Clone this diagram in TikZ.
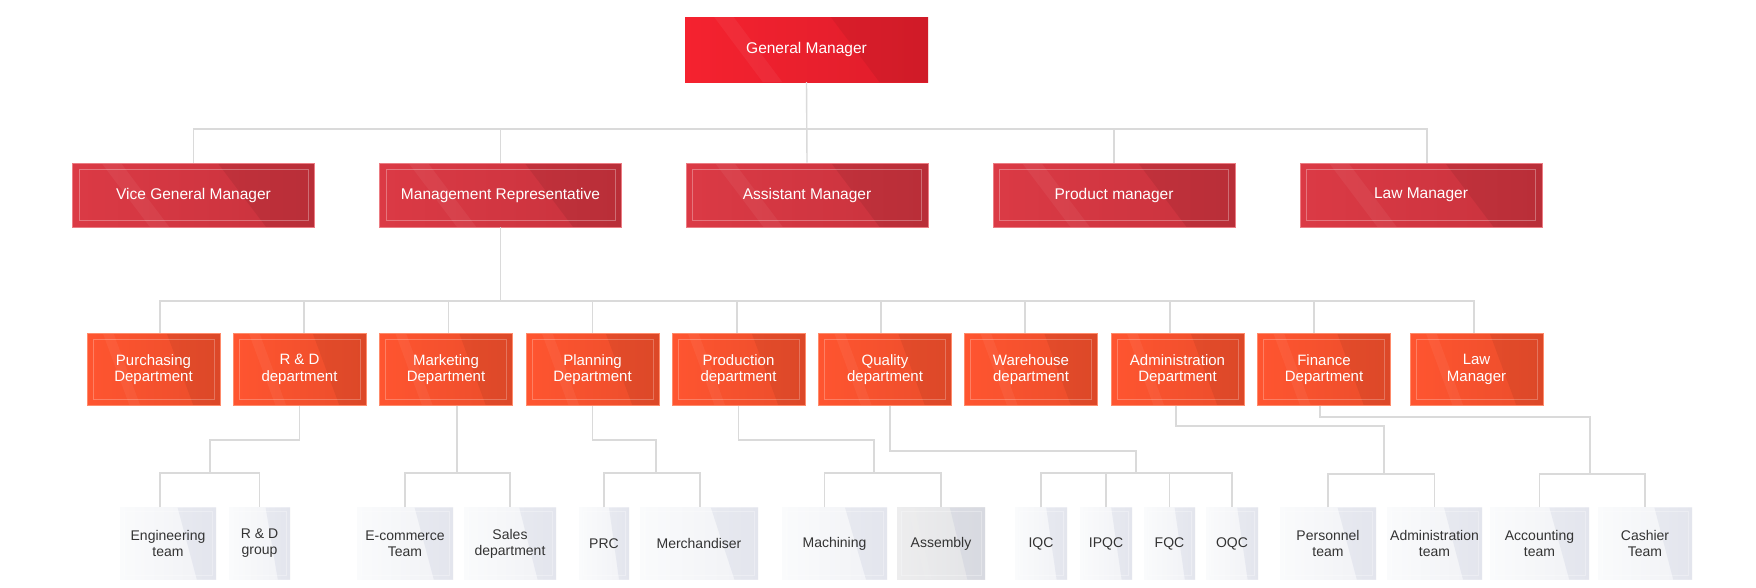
\documentclass[tikz,border=0pt]{standalone}
\usepackage{fontspec}
\setmainfont{Liberation Sans}
\usetikzlibrary{calc}
\definecolor{gmL}{HTML}{F5222F}
\definecolor{gmR}{HTML}{DE1D2B}
\definecolor{l2L}{HTML}{DB3A45}
\definecolor{l2R}{HTML}{C8323D}
\definecolor{l2E}{HTML}{EC7C83}
\definecolor{l3L}{HTML}{FF5530}
\definecolor{l3R}{HTML}{EA4D2B}
\definecolor{l3E}{HTML}{FF8B6B}
\definecolor{l4L}{HTML}{FAFBFC}
\definecolor{l4R}{HTML}{F0F1F5}
\definecolor{asL}{HTML}{EDEDEE}
\definecolor{asR}{HTML}{E2E3E6}
\definecolor{bandc}{HTML}{8A93B8}
\definecolor{txtf}{HTML}{333333}
\definecolor{lineg}{HTML}{DADADA}
\newcommand{\myband}[2]{%
  \fill[#1,opacity=#2] ($(path picture bounding box.north west)!0.6!(path picture bounding box.north east)$)
    -- (path picture bounding box.north east) -- (path picture bounding box.south east)
    -- ($(path picture bounding box.south west)!0.8!(path picture bounding box.south east)$) -- cycle;
  \fill[white,opacity=0.05] ($(path picture bounding box.north west)!0.12!(path picture bounding box.north east)$)
    -- ($(path picture bounding box.north west)!0.2!(path picture bounding box.north east)$)
    -- ($(path picture bounding box.south west)!0.4!(path picture bounding box.south east)$)
    -- ($(path picture bounding box.south west)!0.32!(path picture bounding box.south east)$) -- cycle;}
\newcommand{\myframe}[2]{%
  \draw[#1,line width=1pt] ([shift={(#2,-#2)}]path picture bounding box.north west)
    rectangle ([shift={(-#2,#2)}]path picture bounding box.south east);}
\tikzset{
  box/.style={rectangle, inner sep=0pt, align=center, text=white},
  gmbox/.style={box, minimum width=243pt, minimum height=65pt, left color=gmL, right color=gmR,
    font=\fontsize{15.5}{18}\selectfont, path picture={\myband{black}{0.06}}},
  mgr/.style={box, minimum width=242pt, minimum height=64pt, left color=l2L, right color=l2R,
    draw=l2E, line width=0.8pt, font=\fontsize{15.5}{18}\selectfont,
    path picture={\myband{black}{0.07}\myframe{white,opacity=0.3}{6.5pt}}},
  dept/.style={box, minimum width=133pt, minimum height=72pt, left color=l3L, right color=l3R,
    draw=l3E, line width=0.8pt, font=\fontsize{15}{16.5}\selectfont,
    path picture={\myband{black}{0.06}\myframe{white,opacity=0.25}{6pt}}},
  team/.style={box, minimum height=72pt, text=txtf, left color=l4L, right color=l4R,
    font=\fontsize{14}{16}\selectfont,
    path picture={\myband{bandc}{0.12}\myframe{white,opacity=0.3}{4pt}}},
  asmb/.style={team, left color=asL, right color=asR},
  conn/.style={draw=lineg, line width=1.4pt}
}
\begin{document}
\begin{tikzpicture}[x=1pt,y=-1pt]
\useasboundingbox (0,0) rectangle (1756,587);
\fill[white] (0,0) rectangle (1756,587);
% level 1 and 2
\node[gmbox] (gm) at (806.5,49.5) {General Manager};
\node[mgr] (vgm) at (193.5,195) {Vice General Manager};
\node[mgr] (mr) at (500.5,195) {Management Representative};
\node[mgr] (am) at (807,195) {Assistant Manager};
\node[mgr] (pm) at (1114,195) {Product manager};
\node[mgr] (lm) at (1421,195) {Law Manager};
% level 3
\node[dept] (pur) at (153.5,369.5) {Purchasing\\Department};
\node[dept] (rd) at (299.5,369.5) {R \& D\\department};
\node[dept] (mkt) at (446,369.5) {Marketing\\Department};
\node[dept] (pln) at (592.5,369.5) {Planning\\Department};
\node[dept] (prd) at (738.5,369.5) {Production\\department};
\node[dept] (qc) at (885,369.5) {Quality\\department};
\node[dept] (wh) at (1031,369.5) {Warehouse\\department};
\node[dept] (adm) at (1177.5,369.5) {Administration\\Department};
\node[dept] (fin) at (1324,369.5) {Finance\\Department};
\node[dept] (law) at (1476.5,369.5) {Law\\Manager};
% level 4
\node[team, minimum width=96pt] (eng) at (168,543.5) {Engineering\\team};
\node[team, minimum width=61pt] (rdg) at (259.5,543.5) {R \& D\\group};
\node[team, minimum width=96pt] (ecom) at (405,543.5) {E-commerce\\Team};
\node[team, minimum width=92pt] (sal) at (510,543.5) {Sales\\department};
\node[team, minimum width=50pt] (prc) at (604,543.5) {PRC};
\node[team, minimum width=118pt] (mer) at (699,543.5) {Merchandiser};
\node[team, minimum width=105pt] (mach) at (834.5,543.5) {Machining};
\node[asmb, minimum width=88pt] (asm) at (941,543.5) {Assembly};
\node[team, minimum width=52pt] (iqc) at (1041,543.5) {IQC};
\node[team, minimum width=52pt] (ipqc) at (1106,543.5) {IPQC};
\node[team, minimum width=51pt] (fqc) at (1169.5,543.5) {FQC};
\node[team, minimum width=52pt] (oqc) at (1232,543.5) {OQC};
\node[team, minimum width=96pt] (per) at (1328,543.5) {Personnel\\team};
\node[team, minimum width=95pt] (admt) at (1434.5,543.5) {Administration\\team};
\node[team, minimum width=99pt] (acc) at (1539.5,543.5) {Accounting\\team};
\node[team, minimum width=94pt] (cas) at (1645,543.5) {Cashier\\Team};
% connectors level 1-2
\coordinate (b1) at (0,129);
\draw[conn] (gm.south) -- (am.north);
\draw[conn] (vgm.north) |- ([xshift=6pt]lm.north |- b1) -- ([xshift=6pt]lm.north);
\draw[conn] (mr.north) -- (mr.north |- b1);
\draw[conn] (pm.north) -- (pm.north |- b1);
% connectors level 2-3
\coordinate (b2) at (0,301);
\draw[conn] (mr.south) -- (mr.south |- b2);
\draw[conn] ([xshift=6.5pt]pur.north) |- ([xshift=-2.5pt]law.north |- b2) -- ([xshift=-2.5pt]law.north);
\foreach \n/\s in {rd/4.5, mkt/2.4, pln/0, prd/-1.5, qc/-4, wh/-6, adm/-7.5, fin/-10}
  \draw[conn] ([xshift=\s pt]\n.north) -- ([xshift=\s pt]\n.north |- b2);
% connectors level 3-4
\coordinate (rdj1) at (210,440); \coordinate (rdj2) at (210,473);
\draw[conn] (rd.south) |- (rdj1) -- (rdj2);
\draw[conn] ([xshift=-8pt]eng.north) |- (rdj2) -| (rdg.north);
\coordinate (mkj) at (457,473);
\draw[conn] ([xshift=11pt]mkt.south) -- (mkj);
\draw[conn] (ecom.north) |- (mkj) -| (sal.north);
\coordinate (plj1) at (656,440); \coordinate (plj2) at (656,473);
\draw[conn] (pln.south) |- (plj1) -- (plj2);
\draw[conn] (prc.north) |- (plj2) -| ([xshift=1pt]mer.north);
\coordinate (pdj1) at (874,440); \coordinate (pdj2) at (874,473);
\draw[conn] (prd.south) |- (pdj1) -- (pdj2);
\draw[conn] ([xshift=-10pt]mach.north) |- (pdj2) -| (asm.north);
\coordinate (qcj1) at (1136,451); \coordinate (qcj2) at (1136,473);
\draw[conn] ([xshift=5pt]qc.south) |- (qcj1) -- (qcj2);
\draw[conn] (iqc.north) |- (qcj2) -| (oqc.north);
\draw[conn] (ipqc.north) -- (ipqc.north |- qcj2);
\draw[conn] (fqc.north) -- (fqc.north |- qcj2);
\coordinate (adj1) at (1384,426); \coordinate (adj2) at (1384,474);
\draw[conn] ([xshift=-1.5pt]adm.south) |- (adj1) -- (adj2);
\draw[conn] (per.north) |- (adj2) -| (admt.north);
\coordinate (fij1) at (1590,417); \coordinate (fij2) at (1590,474);
\draw[conn] ([xshift=-4pt]fin.south) |- (fij1) -- (fij2);
\draw[conn] (acc.north) |- (fij2) -| (cas.north);
\end{tikzpicture}
\end{document}
